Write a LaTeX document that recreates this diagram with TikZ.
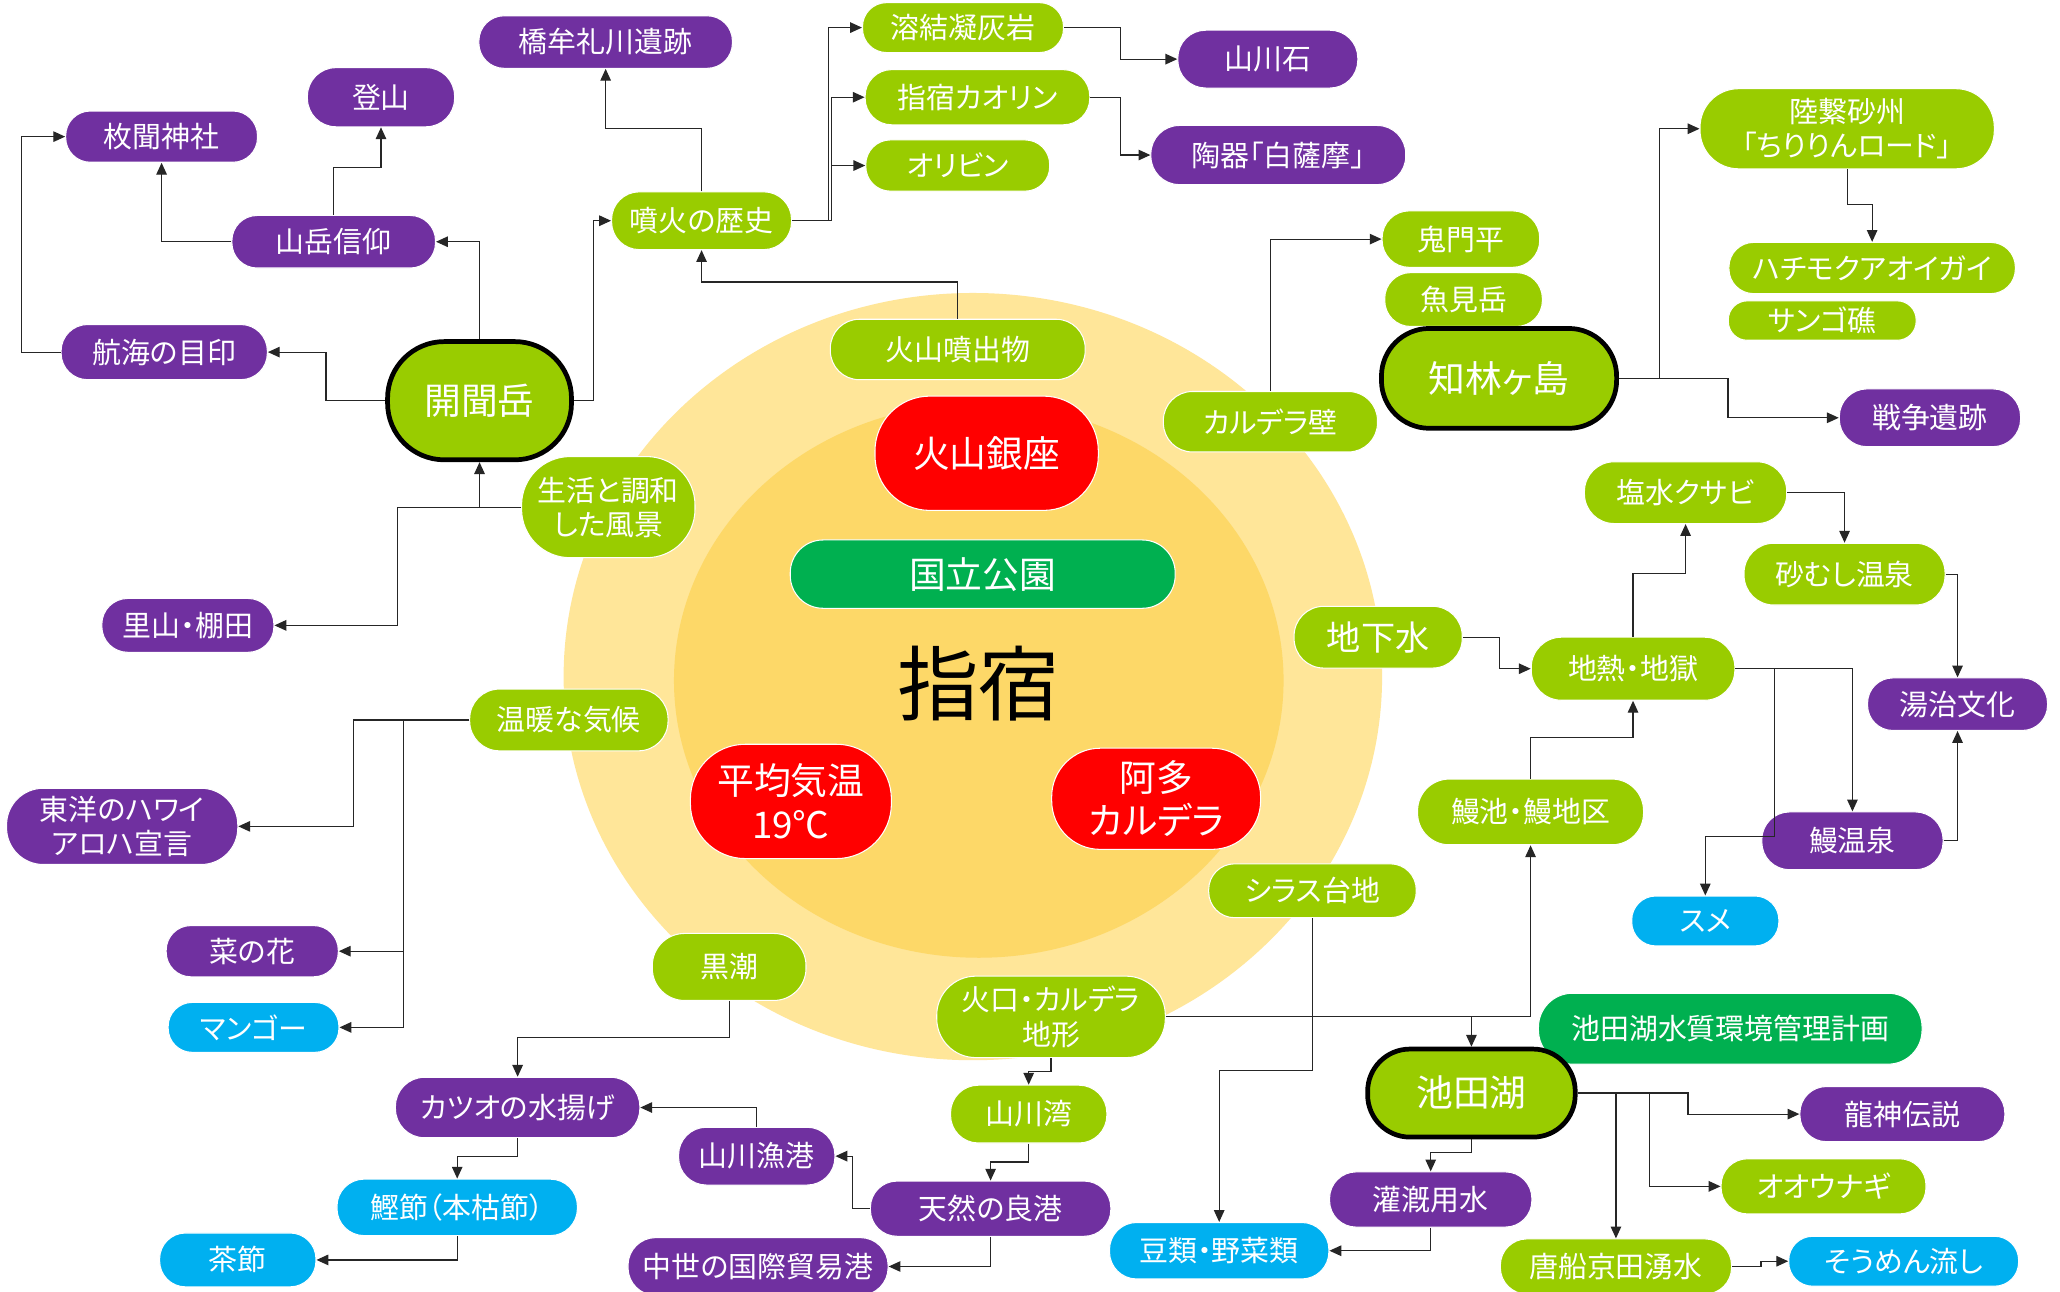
\documentclass[tikz,border=0pt]{standalone}
\usepackage{fontspec}
\setmainfont{Noto Sans CJK JP}[RawFeature=+palt]
\usetikzlibrary{arrows.meta}
\definecolor{cpur}{HTML}{7030A0}
\definecolor{cgrn}{HTML}{99CC00}
\definecolor{ccya}{HTML}{00B0F0}
\definecolor{cdgr}{HTML}{00B050}
\definecolor{cred}{HTML}{FF0000}
\definecolor{couter}{HTML}{FFE699}
\definecolor{cinner}{HTML}{FDD868}
\pgfdeclarelayer{bg}
\pgfdeclarelayer{lines}
\pgfsetlayers{bg,main,lines}
\tikzset{
  base/.style={inner sep=0pt, text=white, align=center, draw=white, line width=0.8pt,
    font=\fontsize{22}{26}\selectfont},
  fbig/.style={font=\fontsize{28}{33}\selectfont},
  fmid/.style={font=\fontsize{26}{30}\selectfont},
  thick box/.style={draw=black, line width=3.6pt},
  pur/.style={fill=cpur}, grn/.style={fill=cgrn}, cya/.style={fill=ccya},
  dgr/.style={fill=cdgr}, rd/.style={fill=cred},
  arr/.style={draw=black!85, line width=0.9pt, -{Triangle[length=9pt,width=8pt]}},
}
\newcommand{\bx}[7]{\node[base,#6,minimum width=#4pt,minimum height=#5pt,rounded corners={0.48*#5}] (#1) at (#2,#3) {#7};}
\begin{document}
\begin{tikzpicture}[x=1pt,y=-1pt]
\clip (0,0) rectangle (1568,983);
\useasboundingbox (0,0) rectangle (1568,983);
\begin{pgfonlayer}{bg}
\fill[white] (0,0) rectangle (1568,983);
\fill[couter] (740.5,515) ellipse [x radius=311.5, y radius=292];
\fill[cinner] (745,518) ellipse [x radius=232, y radius=211];
\end{pgfonlayer}

% left-top cluster
\bx{hirakiki}{123}{104}{146}{39}{pur}{枚聞神社}
\bx{tozan}{290}{74}{112}{45}{pur}{登山}
\bx{hashimure}{461}{32}{193}{40}{pur}{橋牟礼川遺跡}
\bx{sangaku}{254}{184}{155}{40}{pur}{山岳信仰}
\bx{koukai}{125}{268}{157}{42}{pur}{航海の目印}
\bx{kaimon}{365}{305}{140}{90}{grn,thick box,fbig}{開聞岳}
\bx{funka}{534}{168}{137}{44}{grn}{噴火の歴史}
\bx{youketsu}{733}{21}{153}{38}{grn}{溶結凝灰岩}
\bx{kaolin}{744}{74}{171}{42}{grn}{指宿カオリン}
\bx{olivine}{729}{126}{140}{39}{grn}{オリビン}
\bx{ishi}{965}{45}{137}{44}{pur}{山川石}
\bx{touki}{973}{118}{194}{45}{pur}{陶器「白薩摩」}
\bx{funshutsu}{729}{266}{194}{46}{grn}{火山噴出物}
\bx{calwall}{967}{321}{163}{46}{grn}{カルデラ壁}
\bx{kimon}{1112}{182}{120}{43}{grn}{鬼門平}
\bx{uomi}{1114}{228}{120}{41}{grn}{魚見岳}
\bx{chirin}{1141}{288}{179}{76}{grn,thick box,fbig}{知林ヶ島}
\bx{rikkei}{1406}{98}{224}{61}{grn}{陸繋砂州\\「ちりりんロード」}
\bx{hachi}{1425}{204}{218}{39}{grn}{ハチモクアオイガイ}
\bx{sango}{1387}{244}{143}{30}{grn}{サンゴ礁}
\bx{sensou}{1469}{318}{138}{44}{pur}{戦争遺跡}
% center
\bx{ginza}{751}{345}{170}{87}{rd,fbig}{火山銀座}
\bx{kokuritsu}{748}{437}{293}{52}{dgr,fbig}{国立公園}
\node[font=\fontsize{62}{70}\selectfont, text=black, inner sep=0pt] (ibusuki) at (745,520) {指宿};
\bx{heikin}{602}{610}{153}{87}{rd,fbig}{平均気温\\19℃}
\bx{ata}{880}{608}{159}{77}{rd,fbig}{阿多\\カルデラ}
% left
\bx{seikatsu}{463}{386}{132}{77}{grn}{生活と調和\\した風景}
\bx{satoyama}{143}{476}{131}{41}{pur}{里山・棚田}
\bx{ondan}{433}{548}{151}{47}{grn}{温暖な気候}
\bx{touyou}{93}{629}{176}{58}{pur}{東洋のハワイ\\アロハ宣言}
\bx{nanohana}{192}{724}{131}{39}{pur}{菜の花}
\bx{mango}{193}{782}{130}{38}{cya}{マンゴー}
% right
\bx{chikasui}{1049}{485}{128}{47}{grn,fmid}{地下水}
\bx{ensui}{1283}{375}{154}{47}{grn}{塩水クサビ}
\bx{sunamushi}{1404}{437}{153}{47}{grn}{砂むし温泉}
\bx{chinetsu}{1243}{509}{155}{48}{grn}{地熱・地獄}
\bx{touji}{1490}{536}{137}{40}{pur}{湯治文化}
\bx{unagiike}{1165}{618}{172}{50}{grn}{鰻池・鰻地区}
\bx{unagionsen}{1410}{640}{138}{44}{pur}{鰻温泉}
\bx{sume}{1298}{701}{112}{38}{cya}{スメ}
\bx{shirasu}{999}{678}{158}{41}{grn}{シラス台地}
% bottom
\bx{kuroshio}{555}{736}{117}{51}{grn}{黒潮}
\bx{kakou}{800}{774}{174}{62}{grn}{火口・カルデラ\\地形}
\bx{keikaku}{1317}{783}{292}{54}{dgr}{池田湖水質環境管理計画}
\bx{ikeda}{1120}{832}{158}{67}{grn,thick box,fbig}{池田湖}
\bx{ryujin}{1448}{848}{156}{42}{pur}{龍神伝説}
\bx{oounagi}{1388}{903}{156}{42}{grn}{オオウナギ}
\bx{kangai}{1089}{913}{154}{42}{pur}{灌漑用水}
\bx{tousen}{1230}{964}{176}{42}{grn}{唐船京田湧水}
\bx{soumen}{1449}{960}{175}{38}{cya}{そうめん流し}
\bx{mamerui}{928}{952}{167}{43}{cya}{豆類・野菜類}
\bx{wan}{783}{848}{119}{44}{grn}{山川湾}
\bx{tennen}{754}{920}{183}{42}{pur}{天然の良港}
\bx{gyokou}{576}{880}{119}{44}{pur}{山川漁港}
\bx{chusei}{577}{964}{198}{44}{pur}{中世の国際貿易港}
\bx{katsuo}{394}{843}{186}{46}{pur}{カツオの水揚げ}
\bx{katsuobushi}{348}{919}{183}{43}{cya}{鰹節（本枯節）}
\bx{chabushi}{181}{959}{119}{41}{cya}{茶節}

\begin{pgfonlayer}{lines}
\draw[arr] (kaimon.west) -- ++(-45,0) |- (koukai.east);
\draw[arr] (koukai.west) -- ++(-30,0) |- (hirakiki.west);
\draw[arr] (kaimon.north) |- (sangaku.east);
\draw[arr] (sangaku.west) -| (hirakiki.south);
\draw[arr] (sangaku.north) -- ++(0,-36) -| (tozan.south);
\draw[arr] (kaimon.east) -- ++(15,0) |- (funka.west);
\draw[arr] (funka.north) -- ++(0,-48) -| (hashimure.south);
\draw[arr] (funka.east) -- ++(28,0) |- (youketsu.west);
\draw[arr] (funka.east) -- ++(30,0) |- (kaolin.west);
\draw[arr] (funka.east) -- ++(30,0) |- (olivine.west);
\draw[arr] (youketsu.east) -- ++(43,0) |- (ishi.west);
\draw[arr] (kaolin.east) -- ++(23,0) |- (touki.west);
\draw[arr] (funshutsu.north) -- ++(0,-28) -| (funka.south);
\draw[arr] (calwall.north) |- (kimon.west);
\draw[arr] (chirin.east) -- ++(31,0) |- (rikkei.west);
\draw[arr] (chirin.east) -- ++(83,0) |- (sensou.west);
\draw[arr] (rikkei.south) -- ++(0,27) -| (hachi.north);
\draw[arr] (seikatsu.west) -| (kaimon.south);
\draw[arr] (seikatsu.west) -- ++(-94,0) |- (satoyama.east);
\draw[arr] (ondan.west) -- ++(-88,0) |- (touyou.east);
\draw[arr] (ondan.west) -- ++(-50,0) |- (nanohana.east);
\draw[arr] (ondan.west) -- ++(-50,0) |- (mango.east);
\draw[arr] (chikasui.east) -- ++(28,0) |- (chinetsu.west);
\draw[arr] (chinetsu.north) -- ++(0,-48) -| (ensui.south);
\draw[arr] (ensui.east) -| (sunamushi.north);
\draw[arr] (sunamushi.east) -| (touji.north);
\draw[arr] (chinetsu.east) -| (unagionsen.north);
\draw[arr] (chinetsu.east) -- ++(30,0) -- ++(0,128) -| (sume.north);
\draw[arr] (unagionsen.east) -| (touji.south);
\draw[arr] (unagiike.north) -- ++(0,-31) -| (chinetsu.south);
\draw[arr] (kakou.east) -| (unagiike.south);
\draw[arr] (kakou.east) -| (ikeda.north);
\draw[arr] (kakou.south) -- ++(0,10) -| (wan.north);
\draw[arr] (wan.south) -- ++(0,14) -| (tennen.north);
\draw[arr] (tennen.west) -- ++(-13,0) |- (gyokou.east);
\draw[arr] (tennen.south) |- (chusei.east);
\draw[arr] (gyokou.north) |- (katsuo.east);
\draw[arr] (kuroshio.south) -- ++(0,28) -| (katsuo.north);
\draw[arr] (katsuo.south) -- ++(0,14) -| (katsuobushi.north);
\draw[arr] (katsuobushi.south) |- (chabushi.east);
\draw[arr] (shirasu.south) -- ++(0,116) -| (mamerui.north);
\draw[arr] (kangai.south) |- (mamerui.east);
\draw[arr] (ikeda.south) -- ++(0,10) -| (kangai.north);
\draw[arr] (ikeda.east) -- ++(84,0) |- (ryujin.west);
\draw[arr] (ikeda.east) -- ++(55,0) |- (oounagi.west);
\draw[arr] (ikeda.east) -| (tousen.north);
\draw[arr] (tousen.east) -- ++(22,0) |- (soumen.west);
\end{pgfonlayer}
\end{tikzpicture}
\end{document}
